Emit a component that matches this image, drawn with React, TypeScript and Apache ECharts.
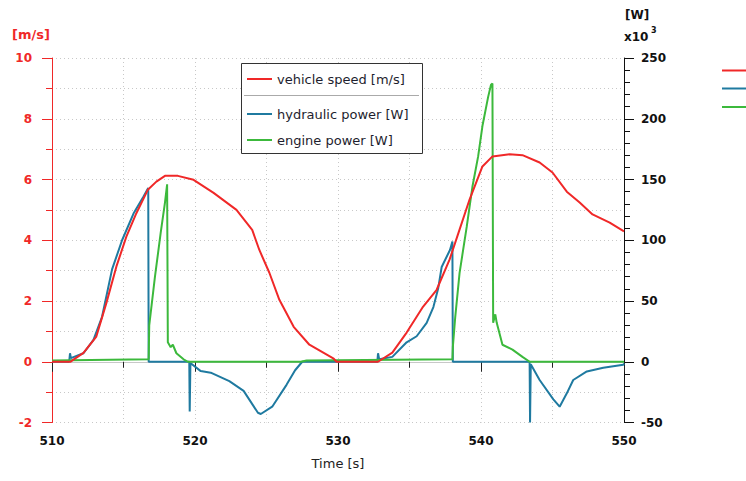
import React, { useEffect, useRef } from "react";
import * as echarts from "echarts";

// ---- data ----
const speedTime = [510, 511.3, 511.5, 512.2, 513.1, 513.8, 514.5, 515.2, 515.9, 516.7, 517.3, 517.9, 518.8, 519.9, 521.3, 522.9, 524.0, 524.5, 525.2, 525.9, 526.9, 528.0, 529.7, 529.9, 532.8, 533.8, 534.8, 535.9, 536.9, 537.8, 538.5, 539.2, 540.1, 540.8, 542.0, 542.9, 544.1, 545.0, 546.0, 546.9, 547.8, 549.0, 550];
const speedValues = [0, 0, 0.07, 0.29, 0.83, 1.93, 3.13, 4.12, 4.89, 5.66, 5.93, 6.12, 6.12, 5.99, 5.56, 5.0, 4.34, 3.68, 2.93, 2.04, 1.15, 0.56, 0.1, 0, 0, 0.3, 0.96, 1.78, 2.37, 3.36, 4.35, 5.34, 6.43, 6.76, 6.83, 6.8, 6.56, 6.23, 5.6, 5.24, 4.85, 4.58, 4.29];

// hydraulic power, x10^3 W
const hydraulicTime = [510, 511.2, 511.26, 511.32, 512.2, 512.9, 513.5, 514.2, 514.9, 515.7, 516.4, 516.73, 516.76, 519.6, 519.63, 519.68, 520.4, 521.1, 522.4, 523.4, 524.4, 524.6, 525.4, 526.4, 527.0, 527.5, 532.75, 532.8, 532.88, 533.8, 534.8, 535.5, 536.2, 536.67, 537.0, 537.25, 537.83, 538.0, 538.03, 543.4, 543.43, 543.48, 544.1, 545.06, 545.5, 546.0, 546.45, 547.4, 548.55, 549.95, 550];
const hydraulicValues = [0, 0, 7, 3, 7, 18, 37, 76, 100, 122, 136, 143, 0, 0, -41, -1, -7.7, -9, -16, -24, -42, -43, -37, -19, -7, 0, 0, 7, 2, 4, 16, 21, 32, 45, 60, 78, 92, 99, 0, 0, -50, -2, -15, -31, -37, -26, -15, -8, -5, -2.5, -1.5];

// engine power, x10^3 W
const engineTime = [510, 516.76, 516.8, 517.2, 517.6, 517.9, 518.05, 518.1, 518.3, 518.45, 518.7, 519.2, 519.5, 527.4, 527.8, 538.0, 538.03, 538.2, 538.5, 539.0, 539.4, 539.8, 540.1, 540.5, 540.7, 540.8, 540.85, 541.0, 541.1, 541.5, 542.2, 542.9, 543.4, 550];
const engineValues = [1, 2, 30, 70, 106, 131, 146, 16, 12, 14, 7, 2, 0, 0, 1, 2, 12, 37, 73, 111, 144, 169, 194, 218, 228, 229, 32, 39, 32, 14, 10, 4, 0, 0];

const legendNames = ["vehicle speed [m/s]", "hydraulic power [W]", "engine power [W]"];
const xTicks = { min: 510, max: 550, step: 10 };
const leftTicks = { min: -2, max: 10, step: 2 };
const rightTicks = { min: -50, max: 250, step: 50 };

const RED = "#f02828";
const BLUE = "#1f7aa0";
const GREEN = "#3cb93c";
const FONT = "DejaVu Sans";

const pairs = (t: number[], v: number[]) => t.map((x, i) => [x, v[i]]);

function txt(x: number, y: number, text: string, font: string, fill: string, align = "left", va = "middle") {
  return {
    type: "text",
    x,
    y,
    z: 100,
    style: { text, font, fill, align, verticalAlign: va, textAlign: align, textVerticalAlign: va },
  };
}
function seg(x1: number, y1: number, x2: number, y2: number, stroke: string, w: number) {
  return { type: "line", z: 100, shape: { x1, y1, x2, y2 }, style: { stroke, lineWidth: w } };
}

export default function App() {
  const ref = useRef<HTMLDivElement>(null);
  useEffect(() => {
    if (!ref.current) return;
    const chart = echarts.init(ref.current, undefined, { renderer: "svg" });
    const dotted = { color: "#c8c8c8", type: [1, 3] as any, width: 1 };
    const option: any = {
      animation: false,
      backgroundColor: "#ffffff",
      grid: { left: 52, right: 122, top: 58, bottom: 58.5, containLabel: false },
      xAxis: [
        {
          type: "value",
          min: xTicks.min,
          max: xTicks.max,
          interval: xTicks.step,
          position: "bottom",
          name: "Time [s]",
          nameLocation: "middle",
          nameGap: 34,
          nameTextStyle: { fontFamily: FONT, fontSize: 13, color: "#222" },
          axisLine: { show: true, lineStyle: { color: "#222", width: 1 } },
          axisTick: { show: true, length: 10, lineStyle: { color: "#222" } },
          minorTick: { show: true, splitNumber: 2, length: 6, lineStyle: { color: "#222" } },
          axisLabel: { fontFamily: FONT, fontSize: 12, fontWeight: "bold", color: "#111", margin: 12 },
          splitLine: { show: true, lineStyle: dotted },
          minorSplitLine: { show: true, lineStyle: dotted },
        },
        {
          type: "value",
          min: xTicks.min,
          max: xTicks.max,
          position: "top",
          axisLine: { show: true, lineStyle: { color: "#c8c8c8", width: 1 } },
          axisTick: { show: false },
          axisLabel: { show: false },
          splitLine: { show: false },
        },
      ],
      yAxis: [
        {
          type: "value",
          min: leftTicks.min,
          max: leftTicks.max,
          interval: leftTicks.step,
          position: "left",
          axisLine: { show: true, lineStyle: { color: RED, width: 1 } },
          axisTick: { show: true, length: 10, lineStyle: { color: RED } },
          minorTick: { show: true, splitNumber: 2, length: 6, lineStyle: { color: RED } },
          axisLabel: { fontFamily: FONT, fontSize: 12, fontWeight: "bold", color: RED, margin: 20 },
          splitLine: { show: true, lineStyle: dotted },
          minorSplitLine: { show: true, lineStyle: dotted },
        },
        {
          type: "value",
          min: rightTicks.min,
          max: rightTicks.max,
          interval: rightTicks.step,
          position: "right",
          axisLine: { show: true, lineStyle: { color: "#111", width: 1 } },
          axisTick: { show: true, length: 10, lineStyle: { color: "#111" } },
          minorTick: { show: true, splitNumber: 5, length: 6, lineStyle: { color: "#111" } },
          axisLabel: { fontFamily: FONT, fontSize: 12, fontWeight: "bold", color: "#111", margin: 17 },
          splitLine: { show: false },
        },
      ],
      series: [
        {
          name: legendNames[1],
          type: "line",
          yAxisIndex: 1,
          data: pairs(hydraulicTime, hydraulicValues),
          showSymbol: false,
          symbol: "none",
          lineStyle: { color: BLUE, width: 2 },
          itemStyle: { color: BLUE },
        },
        {
          name: legendNames[2],
          type: "line",
          yAxisIndex: 1,
          data: pairs(engineTime, engineValues),
          showSymbol: false,
          symbol: "none",
          lineStyle: { color: GREEN, width: 2 },
          itemStyle: { color: GREEN },
        },
        {
          name: legendNames[0],
          type: "line",
          yAxisIndex: 0,
          data: pairs(speedTime, speedValues),
          showSymbol: false,
          symbol: "none",
          lineStyle: { color: RED, width: 2 },
          itemStyle: { color: RED },
        },
      ],
      graphic: [
        txt(12, 34, "[m/s]", `bold 13px '${FONT}'`, RED),
        txt(625, 15, "[W]", `bold 12px '${FONT}'`, "#111"),
        txt(624, 37, "x10", `bold 12px '${FONT}'`, "#111"),
        txt(651, 30, "3", `bold 8px '${FONT}'`, "#111"),
        {
          type: "rect",
          z: 99,
          shape: { x: 241.5, y: 63.5, width: 181, height: 90 },
          style: { fill: "#ffffff", stroke: "#333", lineWidth: 1 },
        },
        seg(247, 79, 272, 79, RED, 2),
        txt(277, 79, legendNames[0], `13px '${FONT}'`, "#1e1e2e"),
        seg(244, 95.5, 419, 95.5, "#aaaaaa", 1),
        seg(247, 114, 272, 114, BLUE, 2),
        txt(277, 114, legendNames[1], `13px '${FONT}'`, "#1e1e2e"),
        seg(247, 140, 272, 140, GREEN, 2),
        txt(277, 140, legendNames[2], `13px '${FONT}'`, "#1e1e2e"),
        seg(722, 70.5, 746, 70.5, RED, 2),
        seg(722, 88.5, 746, 88.5, BLUE, 2),
        seg(722, 107, 746, 107, GREEN, 2),
      ],
    };
    chart.setOption(option);
    return () => chart.dispose();
  }, []);
  return (
    <div
      ref={ref}
      style={{ position: "fixed", left: 0, top: 0, width: 746, height: 481, background: "#fff" }}
    />
  );
}
